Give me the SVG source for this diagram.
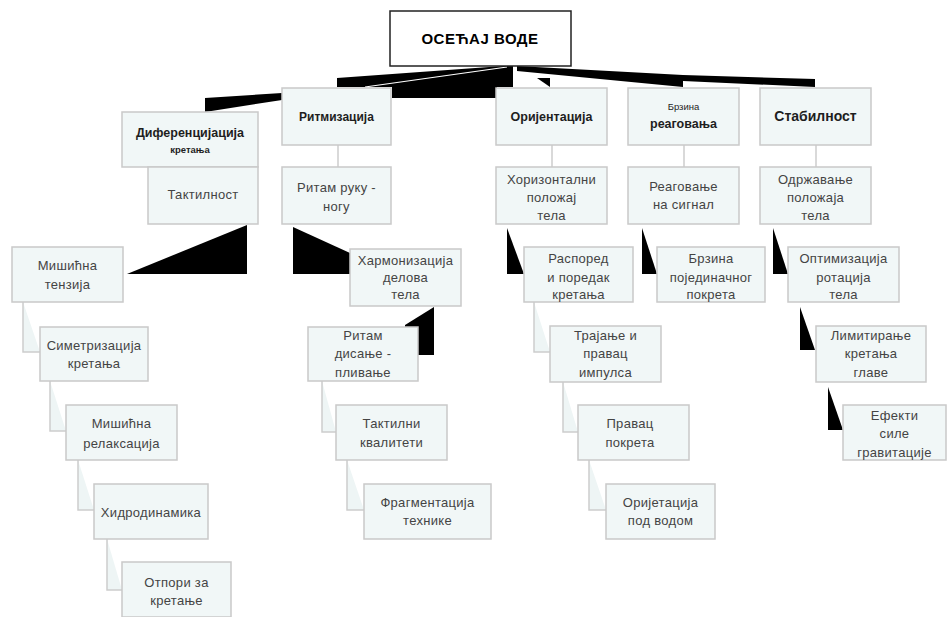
<svg xmlns="http://www.w3.org/2000/svg" width="948" height="617" viewBox="0 0 948 617">
<style>
.box{fill:#f1f7f7;stroke:#c9c9c9;stroke-width:1.5}
.root{fill:#fff;stroke:#222;stroke-width:1.5}
.hd{font-family:"Liberation Sans",Arial,sans-serif;font-weight:bold;fill:#1e1e1e;text-anchor:middle}
.tx{font-family:"Liberation Sans",Arial,sans-serif;font-size:13px;fill:#444;text-anchor:middle;letter-spacing:0.3px}
.blk{fill:#000}
.ln{fill:none;stroke:#cdcdcd;stroke-width:1.5}
.fnt{fill:#eef5f5}
</style>
<g id="connectors">
  <polygon class="blk" points="337,78 503,66 513,66 513,87 497,87 497,98 392,98 392,87 337,87"/>
  <line x1="365" y1="87" x2="507" y2="67" stroke="#fff" stroke-width="1.2"/>
  <polygon class="blk" points="205,98 282,93 282,100 205,112"/>
  <polygon class="blk" points="517,66 683,75 683,87 517,71"/>
  <polygon class="blk" points="683,75 815,79 815,87 683,81"/>
  <polygon class="blk" points="537,78 550,78 550,87"/>
  <line class="ln" x1="338" y1="145" x2="338" y2="167"/>
  <line class="ln" x1="552" y1="145" x2="552" y2="167"/>
  <line class="ln" x1="684" y1="145" x2="684" y2="167"/>
  <line class="ln" x1="816" y1="145" x2="816" y2="167"/>
  <polygon class="blk" points="247,225 247,274 127,274"/>
  <polygon class="blk" points="293,227 350,253 350,274 293,274"/>
  <polygon class="blk" points="434,307 405,325 405,355 434,355"/>
  <polygon class="blk" points="507,228 507,274 524,274"/>
  <polygon class="blk" points="642,228 642,274 657,274"/>
  <polygon class="blk" points="773,228 773,274 788,274"/>
  <polygon class="blk" points="800,307 800,350 815,350"/>
  <polygon class="blk" points="828,387 828,430 843,430"/>
  <polygon class="fnt" points="23,302 40,352 23,352"/>
  <polyline class="ln" points="23,302 23,352 40,352"/>
  <polygon class="fnt" points="50,381 66,431 50,431"/>
  <polyline class="ln" points="50,381 50,431 66,431"/>
  <polygon class="fnt" points="78,460 94,510 78,510"/>
  <polyline class="ln" points="78,460 78,510 94,510"/>
  <polygon class="fnt" points="107,539 122,590 107,590"/>
  <polyline class="ln" points="107,539 107,590 122,590"/>
  <polygon class="fnt" points="322,381 336,432 322,432"/>
  <polyline class="ln" points="322,381 322,432 336,432"/>
  <polygon class="fnt" points="347,460 364,510 347,510"/>
  <polyline class="ln" points="347,460 347,510 364,510"/>
  <polygon class="fnt" points="534,302 550,352 534,352"/>
  <polyline class="ln" points="534,302 534,352 550,352"/>
  <polygon class="fnt" points="563,382 578,432 563,432"/>
  <polyline class="ln" points="563,382 563,432 578,432"/>
  <polygon class="fnt" points="589,460 606,510 589,510"/>
  <polyline class="ln" points="589,460 589,510 606,510"/>
</g>
<g id="root">
  <rect class="root" x="390" y="11" width="181" height="55"/>
  <text x="480" y="44" font-family="Liberation Sans,Arial,sans-serif" font-weight="900" font-size="15" text-anchor="middle" fill="#000" letter-spacing="0.5">ОСЕЋАЈ ВОДЕ</text>
</g>
<g id="n-diferencijacija">
  <rect class="box" x="122" y="112" width="136" height="55"/>
  <text class="hd" x="190" y="137" font-size="12.5">Диференцијација</text>
  <text class="hd" x="190" y="153" font-size="9.5">кретања</text>
</g>
<g id="n-ritmizacija">
  <rect class="box" x="282" y="88" width="109" height="57"/>
  <text class="hd" x="336.5" y="121" font-size="12">Ритмизација</text>
</g>
<g id="n-orijentacija">
  <rect class="box" x="496" y="88" width="111" height="57"/>
  <text class="hd" x="551.5" y="121" font-size="12.5">Оријентација</text>
</g>
<g id="n-brzina-reagovanja">
  <rect class="box" x="628" y="88" width="111" height="57"/>
  <text class="hd" x="683.5" y="110" font-size="9.5" style="font-weight:normal">Брзина</text>
  <text class="hd" x="683.5" y="128" font-size="12.5">реаговања</text>
</g>
<g id="n-stabilnost">
  <rect class="box" x="760" y="88" width="111" height="57"/>
  <text class="hd" x="815.5" y="121" font-size="14">Стабилност</text>
</g>
<g id="n-taktilnost">
  <rect class="box" x="148" y="167" width="110" height="57"/>
  <text class="tx" x="203" y="199">Тактилност</text>
</g>
<g id="n-ritam-ruku">
  <rect class="box" x="282" y="167" width="109" height="57"/>
  <text class="tx" x="336.5" y="192">Ритам руку -</text>
  <text class="tx" x="336.5" y="211">ногу</text>
</g>
<g id="n-horizontalni">
  <rect class="box" x="496" y="167" width="111" height="57"/>
  <text class="tx" x="551.5" y="184">Хоризонтални</text>
  <text class="tx" x="551.5" y="202">положај</text>
  <text class="tx" x="551.5" y="220">тела</text>
</g>
<g id="n-reagovanje">
  <rect class="box" x="628" y="167" width="111" height="57"/>
  <text class="tx" x="683.5" y="191">Реаговање</text>
  <text class="tx" x="683.5" y="209">на сигнал</text>
</g>
<g id="n-odrzavanje">
  <rect class="box" x="760" y="167" width="111" height="57"/>
  <text class="tx" x="815.5" y="184">Одржавање</text>
  <text class="tx" x="815.5" y="202">положаја</text>
  <text class="tx" x="815.5" y="220">тела</text>
</g>
<g id="n-misicna-tenzija">
  <rect class="box" x="12" y="247" width="111" height="55"/>
  <text class="tx" x="67.5" y="270">Мишићна</text>
  <text class="tx" x="67.5" y="289">тензија</text>
</g>
<g id="n-simetrizacija">
  <rect class="box" x="40" y="327" width="108" height="54"/>
  <text class="tx" x="94" y="350">Симетризација</text>
  <text class="tx" x="94" y="368">кретања</text>
</g>
<g id="n-misicna-relaksacija">
  <rect class="box" x="66" y="405" width="111" height="55"/>
  <text class="tx" x="121.5" y="428">Мишићна</text>
  <text class="tx" x="121.5" y="448">релаксација</text>
</g>
<g id="n-hidrodinamika">
  <rect class="box" x="94" y="484" width="114" height="55"/>
  <text class="tx" x="151" y="517">Хидродинамика</text>
</g>
<g id="n-otpori">
  <rect class="box" x="122" y="562" width="109" height="55"/>
  <text class="tx" x="176.5" y="587">Отпори за</text>
  <text class="tx" x="176.5" y="605">кретање</text>
</g>
<g id="n-harmonizacija">
  <rect class="box" x="350" y="249" width="111" height="57"/>
  <text class="tx" x="405.5" y="265">Хармонизација</text>
  <text class="tx" x="405.5" y="282">делова</text>
  <text class="tx" x="405.5" y="299">тела</text>
</g>
<g id="n-ritam-disanje">
  <rect class="box" x="308" y="327" width="110" height="54"/>
  <text class="tx" x="363" y="340">Ритам</text>
  <text class="tx" x="363" y="358">дисање -</text>
  <text class="tx" x="363" y="377">пливање</text>
</g>
<g id="n-taktilni-kvaliteti">
  <rect class="box" x="336" y="405" width="111" height="55"/>
  <text class="tx" x="391.5" y="428">Тактилни</text>
  <text class="tx" x="391.5" y="447">квалитети</text>
</g>
<g id="n-fragmentacija">
  <rect class="box" x="364" y="484" width="127" height="55"/>
  <text class="tx" x="427.5" y="507">Фрагментација</text>
  <text class="tx" x="427.5" y="525">технике</text>
</g>
<g id="n-raspored">
  <rect class="box" x="524" y="247" width="109" height="55"/>
  <text class="tx" x="578.5" y="263">Распоред</text>
  <text class="tx" x="578.5" y="282">и поредак</text>
  <text class="tx" x="578.5" y="299">кретања</text>
</g>
<g id="n-trajanje">
  <rect class="box" x="550" y="326" width="111" height="56"/>
  <text class="tx" x="605.5" y="340">Трајање и</text>
  <text class="tx" x="605.5" y="358">правац</text>
  <text class="tx" x="605.5" y="377">импулса</text>
</g>
<g id="n-pravac-pokreta">
  <rect class="box" x="578" y="405" width="111" height="55"/>
  <text class="tx" x="630" y="428">Правац</text>
  <text class="tx" x="630" y="447">покрета</text>
</g>
<g id="n-orijetacija-pod-vodom">
  <rect class="box" x="606" y="484" width="109" height="55"/>
  <text class="tx" x="660.5" y="507">Оријетација</text>
  <text class="tx" x="660.5" y="525">под водом</text>
</g>
<g id="n-brzina-pojedinacnog">
  <rect class="box" x="657" y="247" width="108" height="55"/>
  <text class="tx" x="711" y="263">Брзина</text>
  <text class="tx" x="711" y="282">појединачног</text>
  <text class="tx" x="711" y="299">покрета</text>
</g>
<g id="n-optimizacija">
  <rect class="box" x="788" y="247" width="111" height="55"/>
  <text class="tx" x="843.5" y="263">Оптимизација</text>
  <text class="tx" x="843.5" y="282">ротација</text>
  <text class="tx" x="843.5" y="299">тела</text>
</g>
<g id="n-limitiranje">
  <rect class="box" x="816" y="326" width="110" height="56"/>
  <text class="tx" x="871" y="340">Лимитирање</text>
  <text class="tx" x="871" y="358">кретања</text>
  <text class="tx" x="871" y="377">главе</text>
</g>
<g id="n-efekti">
  <rect class="box" x="843" y="405" width="103" height="55"/>
  <text class="tx" x="894.5" y="420">Ефекти</text>
  <text class="tx" x="894.5" y="438">силе</text>
  <text class="tx" x="894.5" y="457">гравитације</text>
</g>
</svg>
